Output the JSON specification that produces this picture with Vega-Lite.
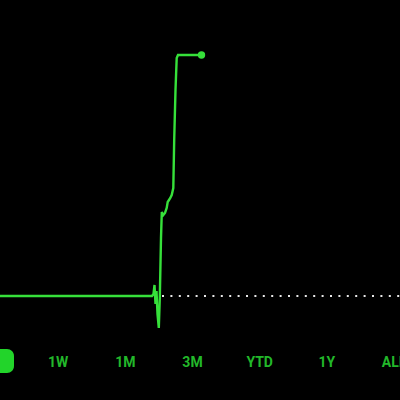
{
  "$schema": "https://vega.github.io/schema/vega-lite/v6.json",
  "width": 400,
  "height": 400,
  "autosize": {"type": "none"},
  "padding": 0,
  "background": "#000000",
  "config": {"view": {"stroke": null}},
  "datasets": {
    "prices": [
      {"t": 0, "price": 10.4},
      {"t": 152, "price": 10.4},
      {"t": 153.5, "price": 10.6},
      {"t": 154.5, "price": 11.5},
      {"t": 155.5, "price": 9.6},
      {"t": 156.5, "price": 10.9},
      {"t": 157.5, "price": 8.6},
      {"t": 158.8, "price": 7.2},
      {"t": 159.8, "price": 10.2},
      {"t": 161, "price": 16.2},
      {"t": 161.8, "price": 18.8},
      {"t": 163.3, "price": 18.5},
      {"t": 165, "price": 18.7},
      {"t": 166.7, "price": 19.2},
      {"t": 167.7, "price": 19.8},
      {"t": 169, "price": 20.0},
      {"t": 170.3, "price": 20.2},
      {"t": 171.7, "price": 20.5},
      {"t": 173.3, "price": 21.2},
      {"t": 174.2, "price": 26.0},
      {"t": 175.5, "price": 31.0},
      {"t": 176.7, "price": 34.2},
      {"t": 178, "price": 34.5},
      {"t": 201.5, "price": 34.5}
    ],
    "close": [{"t0": 162, "t1": 400, "prevClose": 10.4}],
    "periods": [
      {"period": "1D", "selected": true},
      {"period": "1W", "selected": false},
      {"period": "1M", "selected": false},
      {"period": "3M", "selected": false},
      {"period": "YTD", "selected": false},
      {"period": "1Y", "selected": false},
      {"period": "ALL", "selected": false}
    ]
  },
  "layer": [
    {
      "layer": [
        {
          "data": {"name": "close"},
          "mark": {"type": "rule", "color": "#e8e8e8", "strokeWidth": 2, "strokeDash": [2, 6.4]},
          "encoding": {
            "x": {"field": "t0", "type": "quantitative", "scale": {"domain": [0, 400], "nice": false, "zero": false}, "axis": null},
            "x2": {"field": "t1"},
            "y": {"field": "prevClose", "type": "quantitative", "scale": {"domain": [0, 40], "nice": false}, "axis": null}
          }
        },
        {
          "data": {"name": "prices"},
          "mark": {"type": "line", "color": "#36e03a", "strokeWidth": 2.4},
          "encoding": {
            "x": {"field": "t", "type": "quantitative"},
            "y": {"field": "price", "type": "quantitative"}
          }
        },
        {
          "data": {"name": "prices"},
          "transform": [{"window": [{"op": "row_number", "as": "rn"}]}, {"joinaggregate": [{"op": "max", "field": "rn", "as": "last"}]}, {"filter": "datum.rn == datum.last"}],
          "mark": {"type": "point", "filled": true, "opacity": 1, "color": "#36e03a", "size": 55},
          "encoding": {
            "x": {"field": "t", "type": "quantitative"},
            "y": {"field": "price", "type": "quantitative"}
          }
        }
      ]
    },
    {
      "data": {"name": "periods"},
      "encoding": {
        "x": {"field": "period", "type": "nominal", "sort": null, "scale": {"type": "point", "range": [-9, 394], "padding": 0}, "axis": null}
      },
      "layer": [
        {
          "transform": [{"filter": "datum.selected"}],
          "mark": {"type": "rect", "color": "#22d42a", "width": 46, "height": 24, "cornerRadius": 7},
          "encoding": {
            "y": {"datum": 3.9, "type": "quantitative"}
          }
        },
        {
          "mark": {"type": "text", "font": "Roboto", "fontSize": 14, "fontWeight": "bold", "baseline": "middle", "align": "center"},
          "encoding": {
            "text": {"field": "period"},
            "y": {"datum": 3.7, "type": "quantitative"},
            "color": {"condition": {"test": "datum.selected", "value": "#000000"}, "value": "#22b82a"}
          }
        }
      ]
    }
  ],
  "resolve": {"scale": {"x": "independent"}}
}
